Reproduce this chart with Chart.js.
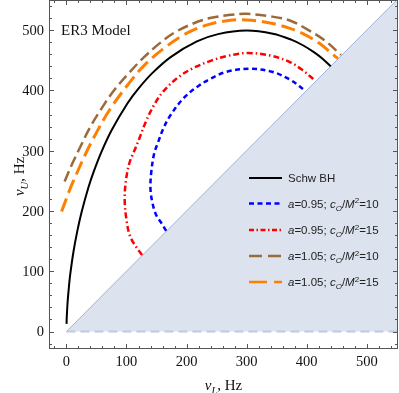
<!DOCTYPE html>
<html>
<head>
<meta charset="utf-8">
<script src="https://cdn.jsdelivr.net/npm/chart.js@4.4.1/dist/chart.umd.min.js"></script>
<style>
  body { margin: 0; background: #fff; }
  canvas { display: block; }
</style>
</head>
<body>
<canvas id="chart" width="399" height="393"></canvas>
<script>
// ===== DATA =====  points are [nu_L, nu_U] in Hz
const schwBH = [[0.2,12.7],[0.7,27],[2,49],[4.2,74.6],[6.6,96.8],[11.8,132.8],[18.1,166.5],[25.1,197.5],
  [36.7,239.3],[45.6,265.6],[57.8,296.8],[75.2,333.8],[101.2,377.8],[119.5,402.5],[142.9,428.7],
  [174.1,455.7],[217.2,481.2],[252.4,493.4],[299.6,499.3],[343.7,494.1],[374.3,484.2],[395.1,474.1],
  [412.6,463],[426.8,452.2],[440,440]];
const a095c10 = [[166,167],[158,180],[150,192],[144,210],[140,235],[141,262],[146,295],[153,315],[161,336],
  [172,357],[194,386],[215,404],[239,419],[267,431],[305,436],[342,431],[372,418],[397,400]];
const a095c15 = [[126,127],[117,139],[106,158],[100,185],[97,218],[99,250],[105,280],[114,302],[122,322],
  [133,350],[146,376],[161,398],[185,421],[211,437],[240,449],[267,457],[300,462],[339,458],[372,447],
  [394,433],[413,417]];
const a105c10 = [[-3,249],[10,279],[22,304],[40,340],[61,374],[80,401],[105,430],[130,456],[155,478],
  [180,496],[211,511],[239,520],[270,525],[300,527],[339,523],[372,516],[403,500],[430,483],[457,459]];
const a105c15 = [[-8,199],[5,234],[17,262],[33,297],[50,330],[72,368],[105,413],[130,442],[160,468],
  [190,489],[211,500],[239,510],[270,516],[300,517],[339,512],[372,503],[392,495],[420,479],[447,457],[452,453]];

const xTicks = [0, 100, 200, 300, 400, 500];
const yTicks = [0, 100, 200, 300, 400, 500];
const seriesNames = ["Schw BH", "a=0.95; cO/M2=10", "a=0.95; cO/M2=15", "a=1.05; cO/M2=10", "a=1.05; cO/M2=15"];

// ===== STYLE =====
const SERIF = "'Liberation Serif', 'Times New Roman', serif";
const SANS = "'Liberation Sans', Arial, sans-serif";
const styles = [
  { color: "#000000", width: 2, dash: [] },
  { color: "#0000ff", width: 2.5, dash: [5, 3.5] },
  { color: "#ff0000", width: 2.5, dash: [6, 3, 1.5, 3] },
  { color: "#9a6a3a", width: 2.5, dash: [11, 5] },
  { color: "#ff8000", width: 3, dash: [14, 6] }
];
// legend label pieces (italic / subscript / superscript)
const legendParts = [
  [{ t: "Schw BH" }],
  [{ t: "a", i: 1 }, { t: "=0.95; " }, { t: "c", i: 1 }, { t: "O", i: 1, s: "sub" }, { t: "/" }, { t: "M", i: 1 }, { t: "2", s: "sup" }, { t: "=10" }],
  [{ t: "a", i: 1 }, { t: "=0.95; " }, { t: "c", i: 1 }, { t: "O", i: 1, s: "sub" }, { t: "/" }, { t: "M", i: 1 }, { t: "2", s: "sup" }, { t: "=15" }],
  [{ t: "a", i: 1 }, { t: "=1.05; " }, { t: "c", i: 1 }, { t: "O", i: 1, s: "sub" }, { t: "/" }, { t: "M", i: 1 }, { t: "2", s: "sup" }, { t: "=10" }],
  [{ t: "a", i: 1 }, { t: "=1.05; " }, { t: "c", i: 1 }, { t: "O", i: 1, s: "sub" }, { t: "/" }, { t: "M", i: 1 }, { t: "2", s: "sup" }, { t: "=15" }]
];
const legendDash = [[], [5, 3.5], [5, 2.5, 1.5, 2.5], [13, 6], [18, 7]];

function toXY(arr) { return arr.map(p => ({ x: p[0], y: p[1] })); }

// draw text made of pieces, returns width
function richText(ctx, x, y, parts, size, family, align) {
  const fontOf = p => (p.i ? "italic " : "") + (p.s ? size * 0.7 : size) + "px " + family;
  let w = 0;
  parts.forEach(p => { ctx.font = fontOf(p); w += ctx.measureText(p.t).width; });
  let cx = align === "center" ? x - w / 2 : x;
  ctx.textBaseline = "alphabetic";
  ctx.textAlign = "left";
  parts.forEach(p => {
    ctx.font = fontOf(p);
    let dy = p.s === "sub" ? size * 0.28 : p.s === "sup" ? -size * 0.38 : 0;
    ctx.fillText(p.t, cx, y + dy);
    cx += ctx.measureText(p.t).width;
  });
  return w;
}

const decorPlugin = {
  id: "decor",
  afterDatasetsDraw(chart) {
    const ctx = chart.ctx;
    const { left, right, top, bottom } = chart.chartArea;
    const xs = chart.scales.x, ys = chart.scales.y;
    ctx.save();

    // frame
    ctx.strokeStyle = "#555";
    ctx.lineWidth = 1;
    ctx.setLineDash([]);
    ctx.strokeRect(left + 0.5, top + 0.5, right - left - 1, bottom - top - 1);

    // inward ticks on all four sides
    ctx.beginPath();
    for (let v = -20; v <= 540; v += 20) {
      const len = v % 100 === 0 ? 5 : 3;
      const px = Math.round(xs.getPixelForValue(v)) + 0.5;
      if (px > left && px < right) {
        ctx.moveTo(px, bottom); ctx.lineTo(px, bottom - len);
        ctx.moveTo(px, top); ctx.lineTo(px, top + len);
      }
      const py = Math.round(ys.getPixelForValue(v)) + 0.5;
      if (py > top && py < bottom) {
        ctx.moveTo(left, py); ctx.lineTo(left + len, py);
        ctx.moveTo(right, py); ctx.lineTo(right - len, py);
      }
    }
    ctx.stroke();

    // tick labels
    ctx.fillStyle = "#111";
    ctx.font = "14.5px " + SERIF;
    ctx.textAlign = "center";
    ctx.textBaseline = "alphabetic";
    xTicks.forEach(v => ctx.fillText(String(v), xs.getPixelForValue(v), 366));
    ctx.textAlign = "right";
    ctx.textBaseline = "middle";
    yTicks.forEach(v => ctx.fillText(String(v), 44, ys.getPixelForValue(v) + 1));

    // axis titles
    richText(ctx, (left + right) / 2, 390, [{ t: "ν", i: 1 }, { t: "L", i: 1, s: "sub" }, { t: ", Hz" }], 15, SERIF, "center");
    ctx.save();
    ctx.translate(24, (top + bottom) / 2 + 2);
    ctx.rotate(-Math.PI / 2);
    richText(ctx, 0, 0, [{ t: "ν", i: 1 }, { t: "U", i: 1, s: "sub" }, { t: ", Hz" }], 15, SERIF, "center");
    ctx.restore();

    // panel title
    ctx.font = "15px " + SERIF;
    ctx.textAlign = "left";
    ctx.textBaseline = "alphabetic";
    ctx.fillText("ER3 Model", 61, 35);

    // legend
    const rowY = [178, 203.5, 230, 256, 282];
    legendParts.forEach((parts, i) => {
      const st = styles[i];
      ctx.strokeStyle = st.color;
      ctx.lineWidth = i === 0 ? 2 : 2.5;
      ctx.setLineDash(legendDash[i]);
      ctx.beginPath();
      ctx.moveTo(249, rowY[i]);
      ctx.lineTo(282, rowY[i]);
      ctx.stroke();
      ctx.setLineDash([]);
      ctx.fillStyle = "#222";
      richText(ctx, 288, rowY[i] + 4, parts, 11.5, SANS, "left");
    });
    ctx.restore();
  }
};

const curves = [schwBH, a095c10, a095c15, a105c10, a105c15].map((arr, i) => ({
  label: seriesNames[i],
  data: toXY(arr),
  showLine: true,
  borderColor: styles[i].color,
  borderWidth: styles[i].width,
  borderDash: styles[i].dash,
  pointRadius: 0,
  tension: 0.35,
  fill: false,
  order: 1
}));

// forbidden region nu_L > nu_U, with the nu_U = 0 boundary
const region = {
  label: "region",
  data: [{ x: 0, y: 0 }, { x: 560, y: 560 }],
  showLine: true,
  borderColor: "#9fb2d8",
  borderWidth: 1,
  backgroundColor: "#dde3ee",
  pointRadius: 0,
  fill: "origin",
  order: 10
};
const baseLine = {
  label: "base",
  data: [{ x: 0, y: 0 }, { x: 560, y: 0 }],
  showLine: true,
  borderColor: "#bccae4",
  borderWidth: 2,
  borderDash: [9, 5],
  pointRadius: 0,
  fill: false,
  order: 9
};

new Chart(document.getElementById("chart"), {
  type: "scatter",
  data: { datasets: [...curves, baseLine, region] },
  options: {
    responsive: false,
    animation: false,
    devicePixelRatio: 1,
    layout: { padding: { left: 49, right: 1, top: 0, bottom: 44 } },
    plugins: { legend: { display: false }, tooltip: { enabled: false } },
    scales: {
      x: { type: "linear", min: -29, max: 552, display: false },
      y: { type: "linear", min: -29, max: 550, display: false }
    }
  },
  plugins: [decorPlugin]
});
</script>
</body>
</html>
